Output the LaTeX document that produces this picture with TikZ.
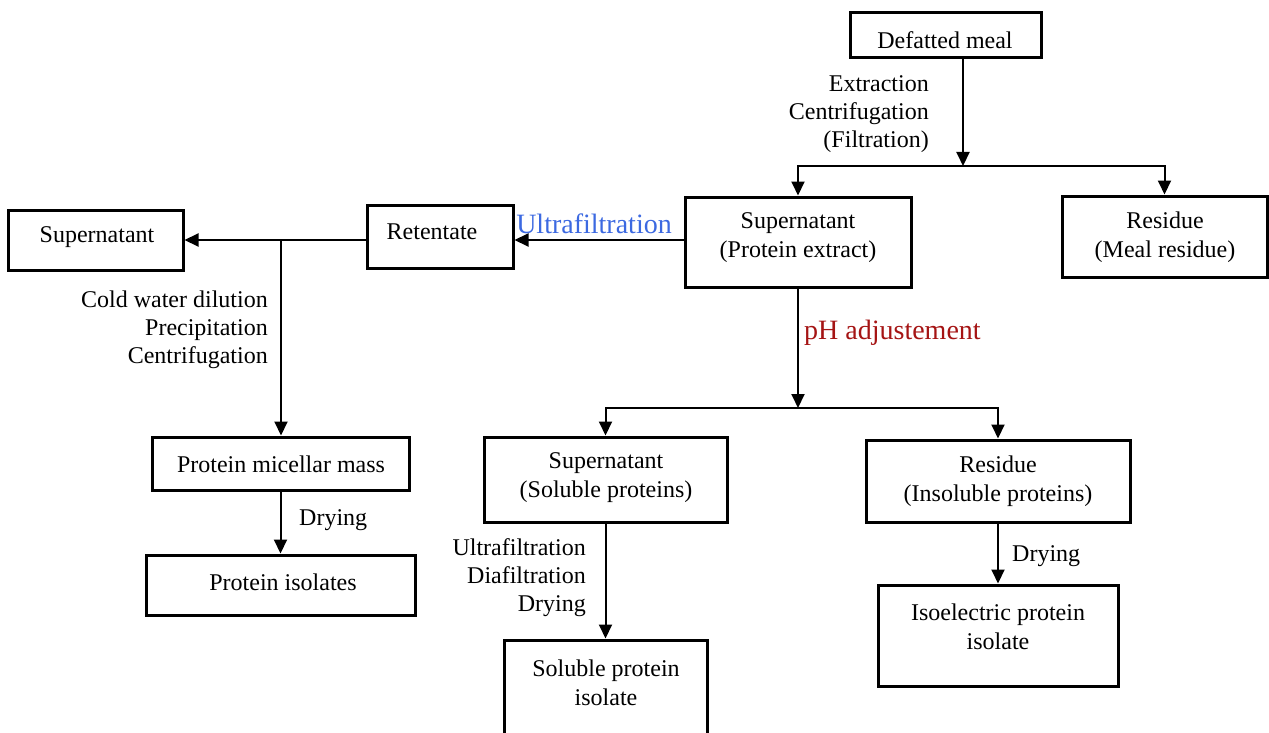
\documentclass[tikz,border=0pt]{standalone}
\usepackage{fontspec}
\setmainfont{Liberation Serif}
\usetikzlibrary{arrows.meta}
\definecolor{ufblue}{RGB}{60,105,225}
\definecolor{phred}{RGB}{165,20,20}
\tikzset{
  box/.style={draw=black, line width=3pt, rectangle, inner sep=0pt},
  txt/.style={align=center, inner sep=0pt, yshift=-3pt, font=\fontsize{24}{29}\selectfont},
  lbl/.style={align=right, inner sep=0pt, yshift=-3pt, font=\fontsize{24}{28}\selectfont},
  arr/.style={line width=2pt, -{Triangle[length=14pt,width=13pt]}},
}
\begin{document}
\begin{tikzpicture}[x=1pt,y=-1pt]
\useasboundingbox (0,0) rectangle (1269,733);
% boxes
\node[box, minimum width=191pt, minimum height=45pt] (dm) at (945.5,35.5) {};
\node[box, minimum width=226pt, minimum height=90pt] (se) at (798,242) {};
\node[box, minimum width=205pt, minimum height=81pt] (res) at (1164.5,236.5) {};
\node[box, minimum width=146pt, minimum height=63pt] (ret) at (440,236.5) {};
\node[box, minimum width=175pt, minimum height=60pt] (supl) at (95.5,240) {};
\node[box, minimum width=257pt, minimum height=53pt] (pmm) at (280.5,463.5) {};
\node[box, minimum width=269pt, minimum height=60pt] (pi) at (280.5,585) {};
\node[box, minimum width=243pt, minimum height=85pt] (ss) at (605.5,479.5) {};
\node[box, minimum width=264pt, minimum height=82pt] (ri) at (998,481) {};
\node[box, minimum width=203pt, minimum height=120pt] (spi) at (605.5,700) {};
\node[box, minimum width=240pt, minimum height=101pt] (iso) at (998,635.5) {};
% box texts
\node[txt] (dmt) at (945,37) {Defatted meal};
\node[txt] (set) at (798,235) {Supernatant\\(Protein extract)};
\node[txt] (rest) at (1165,234) {Residue\\(Meal residue)};
\node[txt] (rett) at (432,229) {Retentate};
\node[txt] (suplt) at (97,234) {Supernatant};
\node[txt] (pmmt) at (281,461) {Protein micellar mass};
\node[txt] (pit) at (283,579) {Protein isolates};
\node[txt] (sst) at (606,475) {Supernatant\\(Soluble proteins)};
\node[txt] (rit) at (998,478) {Residue\\(Insoluble proteins)};
\node[txt] (spit) at (606,680) {Soluble protein\\isolate};
\node[txt] (isot) at (998,624) {Isoelectric protein\\isolate};
% junction coordinates
\coordinate (j1) at (963,166);
\coordinate (hy) at (0,240);
\coordinate (j2) at (281,240);
\coordinate (j3) at (798,408);
% connectors
\draw[arr] (dm.south -| j1) -- (j1);
\draw[arr] (j1) -| (se.north);
\draw[arr] (j1) -| (res.north);
\draw[arr] (se.west |- hy) -- (ret.east |- hy);
\draw[arr] (ret.west |- hy) -- (supl.east |- hy);
\draw[arr] (j2) -- (j2 |- pmm.north);
\draw[arr] (pmm.south) -- (pi.north);
\draw[arr] (se.south) -- (j3);
\draw[arr] (j3) -| (ss.north);
\draw[arr] (j3) -| (ri.north);
\draw[arr] (ss.south) -- (spi.north);
\draw[arr] (ri.south) -- (iso.north);
% process labels
\node[lbl, anchor=east] (l1) at (929,111) {Extraction\\Centrifugation\\(Filtration)};
\node[lbl, anchor=center, text=ufblue, font=\fontsize{28}{30}\selectfont] (l2) at (594,221) {Ultrafiltration};
\node[lbl, anchor=east] (l3) at (268,327) {Cold water dilution\\Precipitation\\Centrifugation};
\node[lbl, anchor=west] (l4) at (299,517) {Drying};
\node[lbl, anchor=west, text=phred, font=\fontsize{28}{30}\selectfont] (l5) at (804,330) {pH adjustement};
\node[lbl, anchor=east] (l6) at (586,575) {Ultrafiltration\\Diafiltration\\Drying};
\node[lbl, anchor=west] (l7) at (1012,553) {Drying};
\end{tikzpicture}
\end{document}
